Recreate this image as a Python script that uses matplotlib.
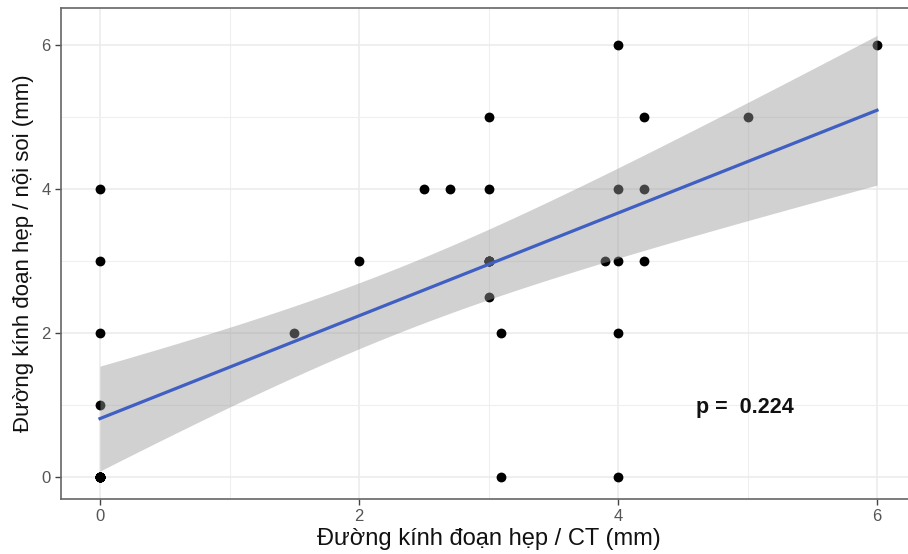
import matplotlib
matplotlib.use("Agg")
import matplotlib.pyplot as plt
import numpy as np

plt.rcParams['font.family'] = ['Liberation Sans', 'DejaVu Sans']

# duong kinh doan hep: CT (x) vs noi soi (y), overplotted points repeated
ct_mm = [0, 0, 0, 0, 0, 0, 0, 0, 0, 0, 0, 0, 0,
         1.5, 2, 2.5, 2.7,
         3, 3, 3, 3, 3, 3, 3, 3,
         3.1, 3.1, 3.9,
         4, 4, 4, 4, 4,
         4.2, 4.2, 4.2, 5, 6]
noisoi_mm = [4, 3, 2, 1, 0, 0, 0, 0, 0, 0, 0, 0, 0,
             2, 3, 4, 4,
             5, 4, 3, 2.5, 3, 3, 3, 3,
             2, 0, 3,
             6, 4, 3, 2, 0,
             5, 4, 3, 5, 6]
p_text = "p =  0.224"
xticks = [0, 2, 4, 6]
yticks = [0, 2, 4, 6]
t_crit = 2.03  # t(0.975, n-2)

x = np.array(ct_mm, dtype=float)
y = np.array(noisoi_mm, dtype=float)
n = len(x)
slope, icpt = np.polyfit(x, y, 1)
resid = y - (icpt + slope * x)
s = np.sqrt(np.sum(resid ** 2) / (n - 2))
sxx = np.sum((x - x.mean()) ** 2)
xs = np.linspace(x.min(), x.max(), 80)
ys = icpt + slope * xs
se = s * np.sqrt(1.0 / n + (xs - x.mean()) ** 2 / sxx)

fig = plt.figure(figsize=(9.08, 5.54), dpi=100)
ax = fig.add_axes([61.15 / 908, 0.1, 854.7 / 908, 490.3 / 554])

ax.scatter(x, y, s=50, color='black', zorder=2, linewidths=0)
ax.fill_between(xs, ys - t_crit * se, ys + t_crit * se, color='#999999', alpha=0.45,
                linewidth=0, zorder=3)
ax.plot(xs, ys, color='#3F5FC2', lw=2.3, zorder=4)
ax.text(4.98, 0.96, p_text, fontsize=15.5, fontweight='bold', ha='center', va='center',
        color='#111111', zorder=5)

ax.set_xlim(-0.3, 6.3)
ax.set_ylim(-0.3, 6.51)
ax.set_xticks(xticks)
ax.set_yticks(yticks)
ax.set_xticks([1, 3, 5], minor=True)
ax.set_yticks([1, 3, 5], minor=True)
ax.grid(which='major', color='#EBEBEB', lw=1.1, zorder=0)
ax.grid(which='minor', color='#EFEFEF', lw=0.8, zorder=0)
ax.set_axisbelow(True)
ax.tick_params(which='major', length=4, width=1, color='#444444', labelcolor='#555555',
               labelsize=12)
ax.tick_params(which='minor', length=0)
for sp in ax.spines.values():
    sp.set_color('#666666')
    sp.set_linewidth(1.2)

ax.set_xlabel("Đường kính đoạn hẹp / CT (mm)", fontsize=17, color='#111111', labelpad=3)
ax.set_ylabel("Đường kính đoạn hẹp / nội soi (mm)", fontsize=16, color='#111111', labelpad=5)

fig.savefig("out.png", dpi=100)
